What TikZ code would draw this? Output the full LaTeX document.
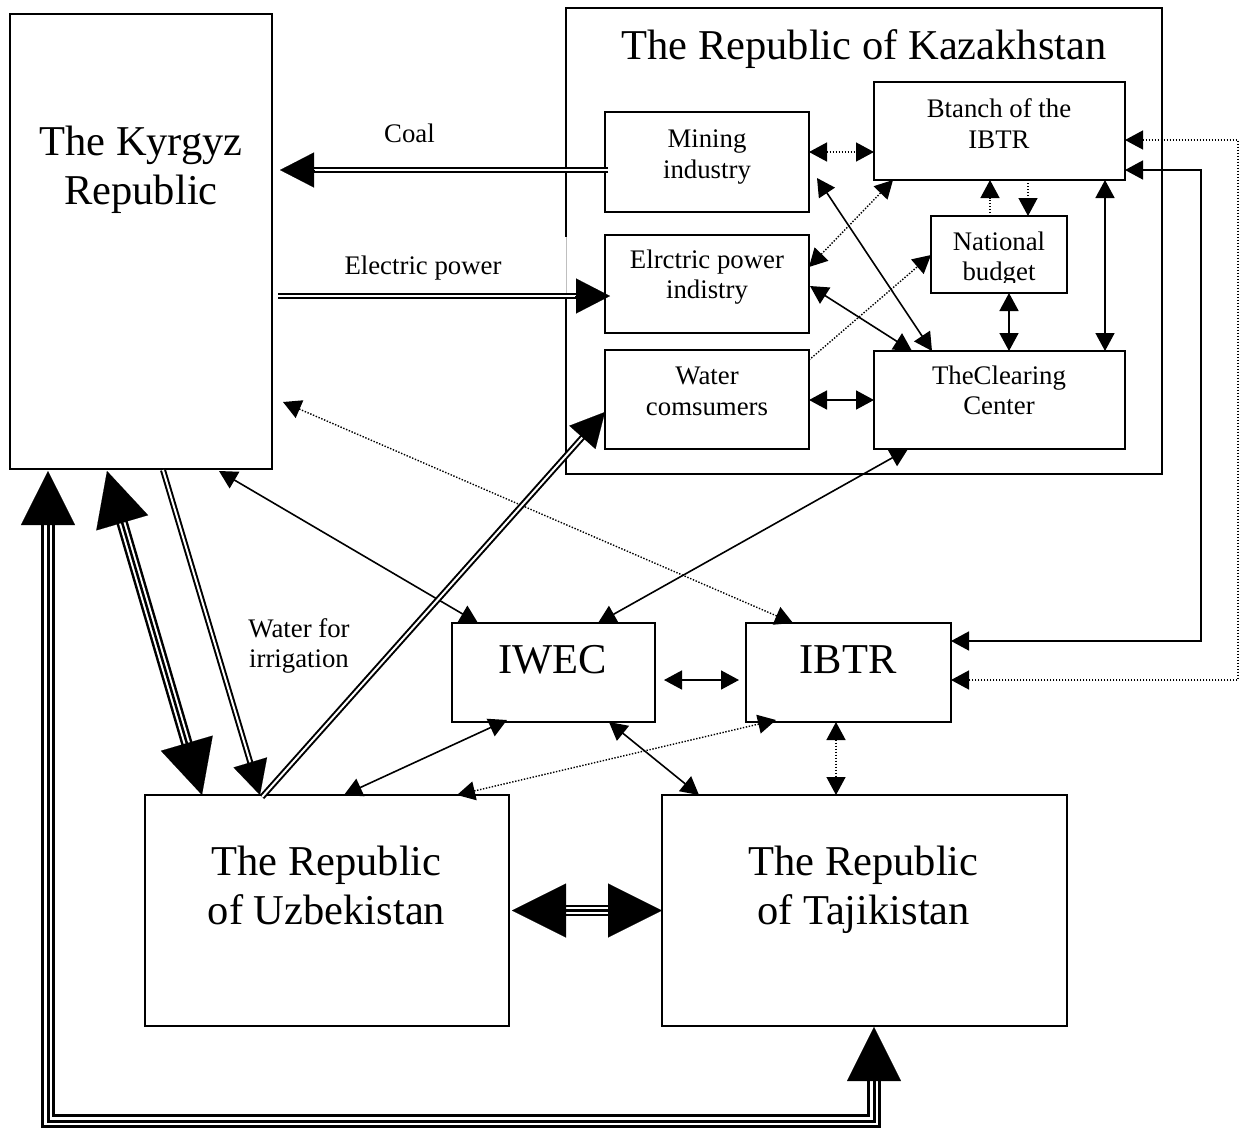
\documentclass[tikz,border=0pt]{standalone}
\usepackage{fontspec}
\setmainfont{Liberation Serif}
\usetikzlibrary{arrows.meta,calc}
\begin{document}
\begin{tikzpicture}[x=1pt,y=-1pt,
  box/.style={draw, line width=1.6pt, inner sep=0pt, outer sep=0pt, anchor=north west},
  smtxt/.style={font=\fontsize{26.8}{30.8}\selectfont, align=center, inner sep=0pt},
  bigtxt/.style={font=\fontsize{42.5}{49}\selectfont, align=center, inner sep=0pt},
  sline/.style={line width=1.6pt},
  dline/.style={line width=1.4pt, dash pattern=on 1.4pt off 1.6pt},
  >={Triangle[length=18pt,width=19pt]},
  dbl/.style={draw=black, line width=2pt, double=white, double distance=2pt},
  trA/.style={line width=11.5pt},
  trB/.style={draw=white, line width=2pt, double=black, double distance=2.5pt},
  lpA/.style={line width=14pt},
  lpB/.style={draw=white, line width=2.5pt, double=black, double distance=3pt},
  tipM/.style={line width=0.1pt, -{Triangle[length=34pt,width=35pt]}},
  tipL/.style={line width=0.1pt, -{Triangle[length=54pt,width=54pt]}},
]
\useasboundingbox (0,0) rectangle (1241,1130);

% boxes
\node[box, minimum width=262pt, minimum height=455pt] (kyr) at (10,14) {};
\node[box, minimum width=596pt, minimum height=466pt] (kaz) at (566,8) {};
\node[box, minimum width=204pt, minimum height=100pt] (mining) at (605,112) {};
\node[box, minimum width=204pt, minimum height=98pt] (elec) at (605,235) {};
\node[box, minimum width=204pt, minimum height=99pt] (water) at (605,350) {};
\node[box, minimum width=251pt, minimum height=98pt] (branch) at (874,82) {};
\node[box, minimum width=136pt, minimum height=77pt] (natb) at (931,216) {};
\node[box, minimum width=251pt, minimum height=98pt] (clear) at (874,351) {};
\node[box, minimum width=203pt, minimum height=99pt] (iwec) at (452,623) {};
\node[box, minimum width=205pt, minimum height=99pt] (ibtr) at (746,623) {};
\node[box, minimum width=364pt, minimum height=231pt] (uzb) at (145,795) {};
\node[box, minimum width=405pt, minimum height=231pt] (taj) at (662,795) {};

% gap in the left edge of the Kazakhstan frame
\draw[white, line width=2.5pt] ($(kaz.north west)+(0,229)$) -- ($(kaz.north west)+(0,289)$);
\draw[black!25, line width=0.8pt] ($(kaz.north west)+(0,229)$) -- ($(kaz.north west)+(0,289)$);

% texts
\node[bigtxt] (kyrt) at (141,169.6) {The Kyrgyz\\Republic};
\node[bigtxt, anchor=base] (kazt) at (864,59) {The Republic of Kazakhstan};
\node[smtxt] (mint) at (707,157.1) {Mining\\industry};
\node[smtxt] (elect) at (707,277.1) {Elrctric power\\indistry};
\node[smtxt] (watert) at (707,391.7) {Water\\comsumers};
\node[smtxt] (brancht) at (999,123.2) {Btanch of the\\IBTR};
\begin{scope}
  \clip (natb.north west) rectangle ($(natb.south east)+(0,-11)$);
  \node[smtxt] (natbt) at (999,259.1) {National\\budget};
\end{scope}
\node[smtxt] (cleart) at (999,390.4) {TheClearing\\Center};
\node[bigtxt, anchor=base] (iwect) at (553,673) {IWEC};
\node[bigtxt, anchor=base] (ibtrt) at (848,673) {IBTR};
\node[bigtxt] (uzbt) at (326.5,885.2) {The Republic\\of Uzbekistan};
\node[bigtxt] (tajt) at (863.5,889.6) {The Republic\\of Tajikistan};
\node[smtxt, anchor=base] (coalt) at (409.5,142) {Coal};
\node[smtxt, anchor=base] (elpt) at (423,274) {Electric power};
\node[smtxt] (irrt) at (299,646) {Water for\\irrigation};

% thin connectors inside Kazakhstan
\draw[dline,<->] ($(mining.north east)+(0,40)$) -- ($(branch.north west)+(0,70)$);
\draw[sline,<->] ($(mining.south east)+(8,-34)$) -- ($(clear.north west)+(58,0)$);
\draw[dline,<->] ($(elec.north east)+(0,32)$) -- ($(branch.south west)+(19,0)$);
\draw[sline,<->] ($(elec.north east)+(1,51)$) -- ($(clear.north west)+(38,0)$);
\draw[dline,->] ($(water.north east)+(0,10)$) -- ($(natb.north west)+(0,39)$);
\draw[sline,<->] ($(water.north east)+(0,50)$) -- ($(clear.north west)+(0,49)$);
\draw[dline,->] ($(natb.north west)+(59,0)$) -- ($(branch.south west)+(116,0)$);
\draw[dline,->] ($(branch.south west)+(154,0)$) -- ($(natb.north west)+(97,0)$);
\draw[sline,<->] ($(natb.south west)+(78,0)$) -- ($(clear.north west)+(135,0)$);
\draw[sline,<->] ($(branch.south west)+(231,0)$) -- ($(clear.north west)+(231,0)$);

% right side loops to IBTR
\draw[dline,<->] ($(branch.north east)+(0,58)$) -- ++(113,0) |- ($(ibtr.north east)+(0,57)$);
\draw[sline,<->] ($(branch.north east)+(0,88)$) -- ++(76,0) |- ($(ibtr.north east)+(0,18)$);

% lower thin connectors
\draw[sline,<->] ($(iwec.north east)+(9,57)$) -- ($(ibtr.north west)+(-7,57)$);
\draw[dline,<->] ($(ibtr.south west)+(90,0)$) -- ($(taj.north west)+(174,0)$);
\draw[dline,<->] ($(ibtr.south west)+(30,-2)$) -- ($(uzb.north west)+(312,0)$);
\draw[sline,<->] ($(iwec.south west)+(55,-2)$) -- ($(uzb.north west)+(199,0)$);
\draw[sline,<->] ($(iwec.south west)+(157,0)$) -- ($(taj.north west)+(37,0)$);
\draw[sline,<->] ($(kyr.south west)+(209,2)$) -- ($(iwec.north west)+(26,0)$);
\draw[sline,<->] ($(clear.south west)+(34,0)$) -- ($(iwec.north west)+(146,0)$);
\draw[dline,<->] ($(kyr.south east)+(11,-67)$) -- ($(ibtr.north west)+(47,0)$);

% Coal
\coordinate (coalS) at ($(mining.north west)+(3,58)$);
\coordinate (coalE) at ($(kyr.north east)+(8,156)$);
\draw[dbl] (coalS) -- ($(coalE)!28pt!(coalS)$);
\draw[tipM] ($(coalE)!35pt!(coalS)$) -- (coalE);

% Electric power
\coordinate (epK) at ($(kyr.north east)+(6,282)$);
\coordinate (epE) at ($(elec.north west)+(5,61)$);
\draw[dbl] (epK) -- ($(epE)!28pt!(epK)$);
\draw[tipM] ($(epE)!35pt!(epK)$) -- (epE);

% Water for irrigation
\coordinate (irK) at ($(kyr.south west)+(153,1)$);
\coordinate (irU) at ($(uzb.north west)+(115,0)$);
\draw[dbl] (irK) -- ($(irU)!28pt!(irK)$);
\draw[tipM] ($(irU)!35pt!(irK)$) -- (irU);

% Uzbekistan -> Water consumers
\coordinate (wtU) at ($(uzb.north west)+(117,2)$);
\coordinate (wtW) at ($(water.north west)+(0,62)$);
\draw[dbl] (wtU) -- ($(wtW)!28pt!(wtU)$);
\draw[tipM] ($(wtW)!35pt!(wtU)$) -- (wtW);

% Kyrgyz <-> Uzbekistan triple
\coordinate (trK) at ($(kyr.south west)+(97,2)$);
\coordinate (trU) at ($(uzb.north west)+(57,0)$);
\draw[trA] ($(trK)!40pt!(trU)$) -- ($(trU)!40pt!(trK)$);
\draw[trB] ($(trK)!40pt!(trU)$) -- ($(trU)!40pt!(trK)$);
\draw[tipL] ($(trK)!55pt!(trU)$) -- (trK);
\draw[tipL] ($(trU)!55pt!(trK)$) -- (trU);

% Uzbekistan <-> Tajikistan
\coordinate (utU) at ($(uzb.east)+(3,0)$);
\coordinate (utT) at (taj.west);
\draw[trA] ($(utU)+(40,0)$) -- ($(utT)+(-40,0)$);
\draw[trB] ($(utU)+(40,0)$) -- ($(utT)+(-40,0)$);
\draw[tipL] ($(utU)+(55,0)$) -- (utU);
\draw[tipL] ($(utT)+(-55,0)$) -- (utT);

% bottom loop Kyrgyz <-> Tajikistan
\coordinate (lpK) at ($(kyr.south west)+(38,2)$);
\coordinate (lpT) at ($(taj.south west)+(212,1)$);
\coordinate (lpC) at ($(lpT)+(0,94)$);
\draw[lpA] ($(lpK)+(0,40)$) |- (lpC) -- ($(lpT)+(0,40)$);
\draw[lpB] ($(lpK)+(0,40)$) |- (lpC) -- ($(lpT)+(0,40)$);
\draw[tipL] ($(lpK)+(0,55)$) -- (lpK);
\draw[tipL] ($(lpT)+(0,55)$) -- (lpT);
\end{tikzpicture}
\end{document}
